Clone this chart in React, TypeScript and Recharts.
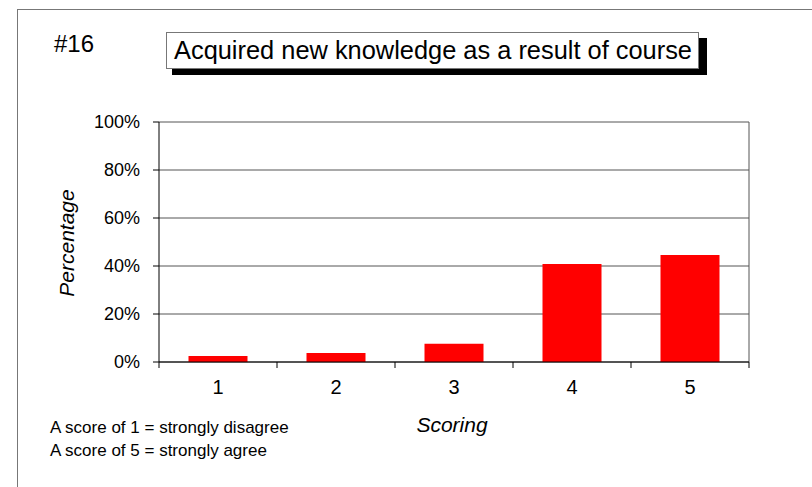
import React from "react";
import {
  BarChart,
  Bar,
  XAxis,
  YAxis,
  CartesianGrid,
  ReferenceLine,
} from "recharts";

const scores = ["1", "2", "3", "4", "5"];
const percentages = [2.5, 3.7, 7.6, 40.8, 44.6];
const yTicks = [0, 20, 40, 60, 80, 100];

const chartNumber = "#16";
const chartTitle = "Acquired new knowledge as a result of course";
const notes = ["A score of 1 = strongly disagree", "A score of 5 = strongly agree"];

const FONT = '"Liberation Sans", Arial, sans-serif';
const TICK_SIZE = 6;
const TICK_MARGIN = 12;

const data = scores.map((s, i) => ({ score: s, pct: percentages[i] }));

// category label in the middle, small tick marks on the band edges
function ScoreTick(props: any) {
  const { x, y, payload, index } = props;
  const half = payload?.offset ?? 59;
  const axisY = y - TICK_SIZE - TICK_MARGIN;
  const last = index === scores.length - 1;
  return (
    <g>
      <line x1={x - half} x2={x - half} y1={axisY} y2={axisY + TICK_SIZE} stroke="#000" />
      {last && (
        <line x1={x + half} x2={x + half} y1={axisY} y2={axisY + TICK_SIZE} stroke="#000" />
      )}
      <text x={x} y={y} dy="0.71em" textAnchor="middle" fill="#000" fontSize={20} fontFamily={FONT}>
        {payload.value}
      </text>
    </g>
  );
}

export default function App() {
  return (
    <div
      style={{
        position: "absolute",
        left: 0,
        top: 0,
        width: 812,
        height: 487,
        overflow: "hidden",
        background: "#fff",
        fontFamily: FONT,
        color: "#000",
      }}
    >
      {/* frame */}
      <div
        style={{
          position: "absolute",
          left: 17,
          top: 9,
          width: 900,
          height: 600,
          borderLeft: "1px solid #777",
          borderTop: "1px solid #777",
        }}
      />

      <BarChart
        width={812}
        height={487}
        data={data}
        margin={{ top: 122, right: 63, left: 20, bottom: 95 }}
        barCategoryGap="25%"
        style={{ position: "absolute", left: 0, top: 0 }}
      >
        <CartesianGrid vertical={false} stroke="#555" />
        <XAxis
          dataKey="score"
          height={30}
          axisLine={{ stroke: "#000" }}
          tickLine={false}
          tickSize={TICK_SIZE}
          tickMargin={TICK_MARGIN}
          tick={<ScoreTick />}
          interval={0}
        />
        <YAxis
          width={139}
          domain={[0, 100]}
          ticks={yTicks}
          tickFormatter={(v) => `${v}%`}
          axisLine={{ stroke: "#000" }}
          tickLine={{ stroke: "#000" }}
          tickSize={TICK_SIZE}
          tickMargin={13}
          tick={{ fill: "#000", fontSize: 18, fontFamily: FONT }}
        />
        <ReferenceLine x="5" position="end" stroke="#555" />
        <Bar dataKey="pct" fill="#FF0000" isAnimationActive={false} />
      </BarChart>

      {/* number */}
      <div style={{ position: "absolute", left: 54, top: 30, fontSize: 24, whiteSpace: "nowrap" }}>
        {chartNumber}
      </div>

      {/* title box with shadow */}
      <div
        style={{
          position: "absolute",
          left: 172,
          top: 38,
          width: 535,
          height: 37,
          background: "#000",
        }}
      />
      <div
        style={{
          position: "absolute",
          left: 166,
          top: 32,
          width: 524,
          height: 35,
          background: "#fff",
          border: "1px solid #777",
          fontSize: 25.4,
          paddingLeft: 7,
          whiteSpace: "nowrap",
          display: "flex",
          alignItems: "center",
        }}
      >
        {chartTitle}
      </div>

      {/* axis titles */}
      <div
        style={{
          position: "absolute",
          left: 67,
          top: 243,
          transform: "translate(-50%, -50%) rotate(-90deg)",
          fontSize: 21,
          fontStyle: "italic",
          whiteSpace: "nowrap",
        }}
      >
        Percentage
      </div>
      <div
        style={{
          position: "absolute",
          left: 452,
          top: 425,
          transform: "translate(-50%, -50%)",
          fontSize: 21,
          fontStyle: "italic",
          whiteSpace: "nowrap",
        }}
      >
        Scoring
      </div>

      {/* notes */}
      {notes.map((n, i) => (
        <div
          key={n}
          style={{
            position: "absolute",
            left: 50,
            top: 428 + i * 23,
            transform: "translateY(-50%)",
            fontSize: 17,
            whiteSpace: "nowrap",
          }}
        >
          {n}
        </div>
      ))}
    </div>
  );
}
